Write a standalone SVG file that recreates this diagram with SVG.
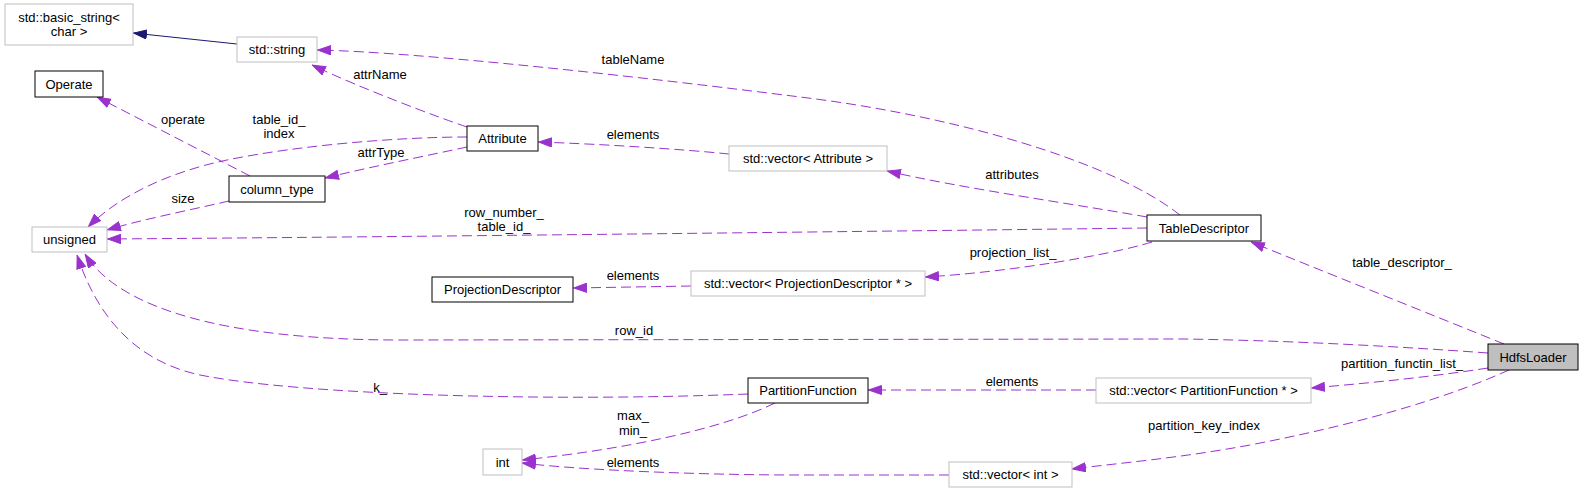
<svg xmlns="http://www.w3.org/2000/svg" width="1584" height="493" viewBox="0 0 1584 493">
<style>
text{font-family:"Liberation Sans",Arial,sans-serif;font-size:13px;fill:#000}
.n text{text-anchor:middle}
.ext rect{fill:#fff;stroke:#bfbfbf;stroke-width:1}
.doc rect{fill:#fff;stroke:#000;stroke-width:1}
.cur rect{fill:#bfbfbf;stroke:#000;stroke-width:1}
.e{fill:none;stroke:#9a32cd;stroke-width:1;stroke-dasharray:10,5;marker-end:url(#ap)}
.s{fill:none;stroke:#191970;stroke-width:1;marker-end:url(#an)}
.l{text-anchor:middle}
</style>
<defs>
<marker id="ap" viewBox="0 0 14 10" refX="14" refY="5" markerWidth="14" markerHeight="10" markerUnits="userSpaceOnUse" orient="auto"><path d="M0.5,0.5 L13.5,5 L0.5,9.5 z" fill="#9a32cd" stroke="#9a32cd"/></marker>
<marker id="an" viewBox="0 0 14 10" refX="14" refY="5" markerWidth="14" markerHeight="10" markerUnits="userSpaceOnUse" orient="auto"><path d="M0.5,0.5 L13.5,5 L0.5,9.5 z" fill="#191970" stroke="#191970"/></marker>
</defs>
<rect width="1584" height="493" fill="#fff"/>
<g id="connectors">
<path class="s" d="M237,44 L133,33"/>
<path class="e" d="M1180,215 C1110,160 950,115 800,97 C650,78 420,52 317,50"/>
<path class="e" d="M467,127 C440,118 360,88 312,65"/>
<path class="e" d="M250,176 L97,97"/>
<path class="e" d="M467,147 C430,155 370,167 325,178"/>
<path class="e" d="M467,137 C400,137 300,145 227,160 C170,172 120,195 88,227"/>
<path class="e" d="M229,201 C190,210 140,220 107,230"/>
<path class="e" d="M1147,228 C900,231 400,237 107,239"/>
<path class="e" d="M1147,217 C1080,205 960,188 887,171"/>
<path class="e" d="M729,154 C680,149 600,144 538,142"/>
<path class="e" d="M1152,242 C1110,255 1010,272 925,277"/>
<path class="e" d="M691,286 L573,288"/>
<path class="e" d="M1504,344 C1430,314 1320,270 1251,242"/>
<path class="e" d="M1488,353 C1350,343 1250,340 1184,339 L400,340 C230,340 120,310 85,254"/>
<path class="e" d="M748,394 C550,402 300,395 200,375 C130,360 95,310 77,255"/>
<path class="e" d="M1096,390 L868,390"/>
<path class="e" d="M775,403 C720,430 620,450 522,460"/>
<path class="e" d="M949,475 L800,475 C700,475 580,470 522,463"/>
<path class="e" d="M1488,368 C1430,377 1370,383 1311,388"/>
<path class="e" d="M1509,370 C1460,392 1380,420 1250,445 C1180,458 1120,463 1072,469"/>
</g>
<g id="edge-labels">
<text class="l" x="633" y="64">tableName</text>
<text class="l" x="380" y="79">attrName</text>
<text class="l" x="183" y="124">operate</text>
<text class="l" x="279" y="124">table_id_</text>
<text class="l" x="279" y="138">index</text>
<text class="l" x="381" y="157">attrType</text>
<text class="l" x="183" y="203">size</text>
<text class="l" x="504" y="217">row_number_</text>
<text class="l" x="504" y="231">table_id_</text>
<text class="l" x="1012" y="179">attributes</text>
<text class="l" x="633" y="139">elements</text>
<text class="l" x="1013" y="257">projection_list_</text>
<text class="l" x="633" y="280">elements</text>
<text class="l" x="1402" y="267">table_descriptor_</text>
<text class="l" x="634" y="335">row_id</text>
<text class="l" x="380" y="392">k_</text>
<text class="l" x="1012" y="386">elements</text>
<text class="l" x="633" y="420">max_</text>
<text class="l" x="633" y="435">min_</text>
<text class="l" x="633" y="467">elements</text>
<text class="l" x="1402" y="368">partition_functin_list_</text>
<text class="l" x="1204" y="430">partition_key_index</text>
</g>
<g id="n-basic_string" class="n ext"><rect x="5" y="4" width="128" height="41"/><text x="69" y="22">std::basic_string&lt;</text><text x="69" y="36">char &gt;</text></g>
<g id="n-string" class="n ext"><rect x="237" y="37" width="80" height="25"/><text x="277" y="54">std::string</text></g>
<g id="n-operate" class="n doc"><rect x="35" y="71" width="68" height="26"/><text x="69" y="88.5">Operate</text></g>
<g id="n-column_type" class="n doc"><rect x="229" y="176" width="96" height="26"/><text x="277" y="193.5">column_type</text></g>
<g id="n-unsigned" class="n ext"><rect x="32" y="227" width="75" height="25"/><text x="69.5" y="244">unsigned</text></g>
<g id="n-attribute" class="n doc"><rect x="467" y="126" width="71" height="25"/><text x="502.5" y="143">Attribute</text></g>
<g id="n-vec_attribute" class="n ext"><rect x="729" y="146" width="158" height="25"/><text x="808" y="163">std::vector&lt; Attribute &gt;</text></g>
<g id="n-projdesc" class="n doc"><rect x="432" y="277" width="141" height="25"/><text x="502.5" y="294">ProjectionDescriptor</text></g>
<g id="n-vec_projdesc" class="n ext"><rect x="691" y="271" width="234" height="25"/><text x="808" y="288">std::vector&lt; ProjectionDescriptor * &gt;</text></g>
<g id="n-tabledesc" class="n doc"><rect x="1147" y="215" width="114" height="26"/><text x="1204" y="232.5">TableDescriptor</text></g>
<g id="n-partfunc" class="n doc"><rect x="748" y="378" width="120" height="25"/><text x="808" y="395">PartitionFunction</text></g>
<g id="n-vec_partfunc" class="n ext"><rect x="1096" y="378" width="215" height="25"/><text x="1203.5" y="395">std::vector&lt; PartitionFunction * &gt;</text></g>
<g id="n-int" class="n ext"><rect x="483" y="449" width="39" height="26"/><text x="502.5" y="466.5">int</text></g>
<g id="n-vec_int" class="n ext"><rect x="949" y="462" width="123" height="25"/><text x="1010.5" y="479">std::vector&lt; int &gt;</text></g>
<g id="n-hdfsloader" class="n cur"><rect x="1488" y="344" width="90" height="26"/><text x="1533" y="361.5">HdfsLoader</text></g>
</svg>
